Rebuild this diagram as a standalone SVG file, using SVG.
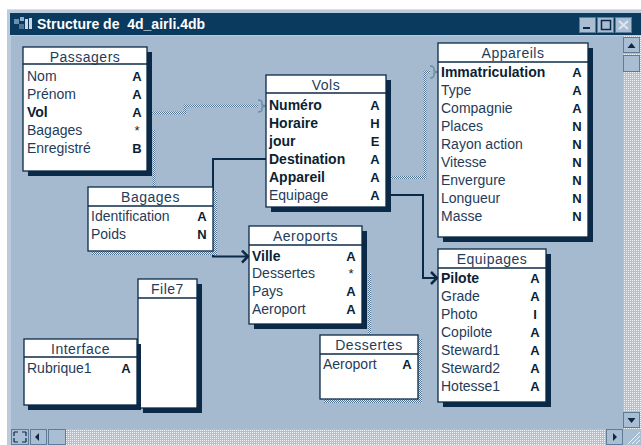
<svg xmlns="http://www.w3.org/2000/svg" width="641" height="445" viewBox="0 0 641 445">
<style>
.fn{font-family:"Liberation Sans",Arial,sans-serif;font-size:14px;fill:#1f3c5a}
.fb{font-weight:bold;fill:#0c1f33}
.ty{font-family:"Liberation Sans",Arial,sans-serif;font-weight:bold;font-size:13px;text-anchor:middle;fill:#0c1f33}
.hd{font-family:"Liberation Sans",Arial,sans-serif;font-size:14px;text-anchor:middle;fill:#1f3c5a;letter-spacing:0.5px}
.box{fill:#ffffff;stroke:#0b2a48;stroke-width:1.3}
.sh{fill:#0b2a48}
.dsh{fill:url(#chk)}
.hl{stroke:#0b2a48;stroke-width:1.3}
.solid{fill:none;stroke:#0b2a48;stroke-width:2;marker-end:url(#arr)}
.dot{fill:none;stroke:url(#chk);stroke-width:3}
.btn{fill:#aabed3;stroke:#5e7b98;stroke-width:1}
.btnhl{fill:none;stroke:#eef3f8;stroke-width:1}
.gl{fill:#0b2a48}
</style>
<defs>
<pattern id="chk" width="2" height="2" patternUnits="userSpaceOnUse"><rect width="2" height="2" fill="#e2eaf2"/><rect width="1" height="1" fill="#4f7090"/><rect x="1" y="1" width="1" height="1" fill="#4f7090"/></pattern>
<pattern id="trk" width="2" height="2" patternUnits="userSpaceOnUse"><rect width="2" height="2" fill="#aec1d4"/><rect width="1" height="1" fill="#f2f6fa"/></pattern>
<marker id="arr" markerUnits="userSpaceOnUse" markerWidth="10" markerHeight="14" viewBox="0 0 10 14" refX="9" refY="7" orient="auto"><path d="M2,1 L8,7 L2,13" fill="none" stroke="#0b2a48" stroke-width="2.5"/></marker>
<marker id="brc" markerUnits="userSpaceOnUse" markerWidth="10" markerHeight="14" viewBox="0 0 10 14" refX="9" refY="7" orient="auto"><path d="M1,1 Q5,1 5,4 V6 L9,7 L5,8 V10 Q5,13 1,13" fill="none" stroke="#6d8cab" stroke-width="1.5"/></marker>
</defs>

<!-- window chrome -->
<rect width="641" height="445" fill="#ffffff"/>
<rect x="7" y="9" width="634" height="436" fill="#bccbdb"/>
<line x1="7" y1="9.5" x2="641" y2="9.5" stroke="#d6e0ea"/>
<rect x="10" y="13" width="631" height="22" fill="#0a3a5e"/>
<rect x="11" y="36" width="612" height="393" fill="#a5b9cf"/>
<g id="titleicon">
<rect x="14" y="19" width="5" height="5" fill="#6f8fae"/>
<rect x="20" y="17" width="4" height="4" fill="#8fb0cc"/>
<rect x="25" y="19" width="3" height="10" fill="#c9d7e5"/>
<rect x="29" y="18" width="3" height="11" fill="#c9d7e5"/>
<rect x="19" y="24" width="5" height="5" fill="#4f7395"/>
</g>
<text x="37" y="29" style="font-family:'Liberation Sans',Arial,sans-serif;font-size:14px;font-weight:bold;fill:#ffffff;white-space:pre" xml:space="preserve">Structure de  4d_airli.4db</text>
<g id="winbuttons">
<rect x="579.5" y="17.5" width="16" height="15" class="btn"/><rect x="583" y="27" width="7" height="2" class="gl"/>
<rect x="597.5" y="17.5" width="16" height="15" class="btn"/><rect x="601.5" y="20.5" width="9" height="9" fill="none" stroke="#0b2a48" stroke-width="1.5"/>
<rect x="615.5" y="17.5" width="16" height="15" class="btn"/><path d="M619,21 L628,29 M628,21 L619,29" stroke="#dde6ef" stroke-width="2"/>
</g>
<g id="vscroll">
<rect x="623" y="36" width="18" height="393" fill="url(#trk)"/>
<rect x="623.5" y="37.5" width="16" height="15" class="btn"/><path d="M627.5,48 L631.5,43 L635.5,48 Z" class="gl"/>
<rect x="623.5" y="55.5" width="16" height="16" class="btn"/>
<rect x="623.5" y="412.5" width="16" height="15" class="btn"/><path d="M627.5,418 L635.5,418 L631.5,423 Z" class="gl"/>
</g>
<g id="hscroll">
<rect x="11" y="429" width="612" height="16" fill="url(#trk)"/>
<rect x="11.5" y="429.5" width="17" height="15" class="btn"/>
<path d="M14,432 h4 M14,432 v4 M26,432 h-4 M26,432 v4 M14,442 h4 M14,442 v-4 M26,442 h-4 M26,442 v-4" stroke="#0b2a48" stroke-width="1.2"/>
<rect x="30.5" y="429.5" width="16" height="15" class="btn"/><path d="M35,437 L39,433 L39,441 Z" class="gl"/>
<rect x="48.5" y="429.5" width="17" height="15" class="btn"/>
<rect x="606.5" y="429.5" width="16" height="15" class="btn"/><path d="M613,433 L617,437 L613,441 Z" class="gl"/>
<rect x="623" y="429" width="18" height="16" fill="#aabed3"/>
<path d="M628,444 L640,432 M632,444 L640,436 M636,444 L640,440" stroke="#eef3f8" stroke-width="1"/>
</g>

<!-- connectors -->
<g id="connectors">
<path class="dot" d="M152,113 H185 V106 H258"/>
<path d="M258,106 H266" fill="none" stroke="none" marker-end="url(#brc)"/>
<path class="dot" d="M391,177.5 H425 V72 H430"/>
<path d="M430,72 H438" fill="none" stroke="none" marker-end="url(#brc)"/>
<path class="solid" d="M266,159 H213 V256.5 H249"/>
<path class="solid" d="M391,195 H423 V278 H438"/>
<path class="dot" d="M154,130 V187"/>
<path class="dot" d="M369.5,273 V335"/>
</g>

<!-- nodes -->
<g id="passagers">
<rect x="28" y="52" width="124" height="124" class="sh"/>
<rect x="23" y="47" width="124" height="124" class="box"/>
<line x1="23" y1="64" x2="147" y2="64" class="hl"/>
<text x="85" y="61.5" class="hd">Passagers</text>
<text x="27" y="81" class="fn">Nom</text><text x="137" y="81" class="ty">A</text>
<text x="27" y="99" class="fn">Prénom</text><text x="137" y="99" class="ty">A</text>
<text x="27" y="117" class="fn fb">Vol</text><text x="137" y="117" class="ty">A</text>
<text x="27" y="135" class="fn">Bagages</text><text x="137" y="135" class="ty" style="font-weight:normal">*</text>
<text x="27" y="153" class="fn">Enregistré</text><text x="137" y="153" class="ty">B</text>
</g>

<g id="vols">
<rect x="271" y="80" width="120" height="132" class="sh"/>
<rect x="266" y="75" width="120" height="132" class="box"/>
<line x1="266" y1="93" x2="386" y2="93" class="hl"/>
<text x="326" y="89.5" class="hd">Vols</text>
<text x="269" y="110" class="fn fb">Numéro</text><text x="375" y="110" class="ty">A</text>
<text x="269" y="128" class="fn fb">Horaire</text><text x="375" y="128" class="ty">H</text>
<text x="269" y="146" class="fn fb">jour</text><text x="375" y="146" class="ty">E</text>
<text x="269" y="164" class="fn fb">Destination</text><text x="375" y="164" class="ty">A</text>
<text x="269" y="182" class="fn fb">Appareil</text><text x="375" y="182" class="ty">A</text>
<text x="269" y="200" class="fn">Equipage</text><text x="375" y="200" class="ty">A</text>
</g>

<g id="appareils">
<rect x="443" y="48" width="150" height="194" class="sh"/>
<rect x="438" y="43" width="150" height="194" class="box"/>
<line x1="438" y1="62" x2="588" y2="62" class="hl"/>
<text x="513" y="57.5" class="hd">Appareils</text>
<text x="441" y="77" class="fn fb">Immatriculation</text><text x="577" y="77" class="ty">A</text>
<text x="441" y="95" class="fn">Type</text><text x="577" y="95" class="ty">A</text>
<text x="441" y="113" class="fn">Compagnie</text><text x="577" y="113" class="ty">A</text>
<text x="441" y="131" class="fn">Places</text><text x="577" y="131" class="ty">N</text>
<text x="441" y="149" class="fn">Rayon action</text><text x="577" y="149" class="ty">N</text>
<text x="441" y="167" class="fn">Vitesse</text><text x="577" y="167" class="ty">N</text>
<text x="441" y="185" class="fn">Envergure</text><text x="577" y="185" class="ty">N</text>
<text x="441" y="203" class="fn">Longueur</text><text x="577" y="203" class="ty">N</text>
<text x="441" y="220.5" class="fn">Masse</text><text x="577" y="220.5" class="ty">N</text>
</g>

<g id="equipages">
<rect x="443" y="254" width="108" height="153" class="sh"/>
<rect x="438" y="249" width="108" height="153" class="box"/>
<line x1="438" y1="268" x2="546" y2="268" class="hl"/>
<text x="492" y="263.5" class="hd">Equipages</text>
<text x="441" y="283" class="fn fb">Pilote</text><text x="535" y="283" class="ty">A</text>
<text x="441" y="301" class="fn">Grade</text><text x="535" y="301" class="ty">A</text>
<text x="441" y="319" class="fn">Photo</text><text x="535" y="319" class="ty">I</text>
<text x="441" y="337" class="fn">Copilote</text><text x="535" y="337" class="ty">A</text>
<text x="441" y="355" class="fn">Steward1</text><text x="535" y="355" class="ty">A</text>
<text x="441" y="373" class="fn">Steward2</text><text x="535" y="373" class="ty">A</text>
<text x="441" y="391" class="fn">Hotesse1</text><text x="535" y="391" class="ty">A</text>
</g>

<g id="bagages">
<rect x="213" y="191" width="4" height="64" class="dsh"/>
<rect x="92" y="251" width="125" height="4" class="dsh"/>
<rect x="88" y="187" width="125" height="64" class="box"/>
<line x1="88" y1="206" x2="213" y2="206" class="hl"/>
<text x="150.5" y="201.5" class="hd">Bagages</text>
<text x="91" y="221" class="fn">Identification</text><text x="202" y="221" class="ty">A</text>
<text x="91" y="239" class="fn">Poids</text><text x="202" y="239" class="ty">N</text>
</g>

<g id="aeroports">
<rect x="254" y="231" width="113" height="98" class="sh"/>
<rect x="249" y="226" width="113" height="98" class="box"/>
<line x1="249" y1="245" x2="362" y2="245" class="hl"/>
<text x="305.5" y="240.5" class="hd">Aeroports</text>
<text x="252" y="261" class="fn fb">Ville</text><text x="351" y="261" class="ty">A</text>
<text x="252" y="278" class="fn">Dessertes</text><text x="351" y="278" class="ty" style="font-weight:normal">*</text>
<text x="252" y="296" class="fn">Pays</text><text x="351" y="296" class="ty">A</text>
<text x="252" y="314" class="fn">Aeroport</text><text x="351" y="314" class="ty">A</text>
</g>

<g id="file7">
<rect x="143" y="284" width="59" height="129" class="sh"/>
<rect x="138" y="279" width="59" height="129" class="box"/>
<line x1="138" y1="298" x2="197" y2="298" class="hl"/>
<text x="167.5" y="293.5" class="hd">File7</text>
</g>

<g id="interface">
<rect x="28" y="344" width="113" height="66" class="sh"/>
<rect x="24" y="339" width="113" height="66" class="box"/>
<line x1="24" y1="357" x2="137" y2="357" class="hl"/>
<text x="80.5" y="353.5" class="hd">Interface</text>
<text x="27" y="373" class="fn">Rubrique1</text><text x="126" y="373" class="ty">A</text>
</g>

<g id="dessertes">
<rect x="418" y="339" width="4" height="64" class="dsh"/>
<rect x="324" y="399" width="98" height="4" class="dsh"/>
<rect x="320" y="335" width="98" height="64" class="box"/>
<line x1="320" y1="354" x2="418" y2="354" class="hl"/>
<text x="369" y="349.5" class="hd">Dessertes</text>
<text x="323" y="369" class="fn">Aeroport</text><text x="407" y="369" class="ty">A</text>
</g>
</svg>
